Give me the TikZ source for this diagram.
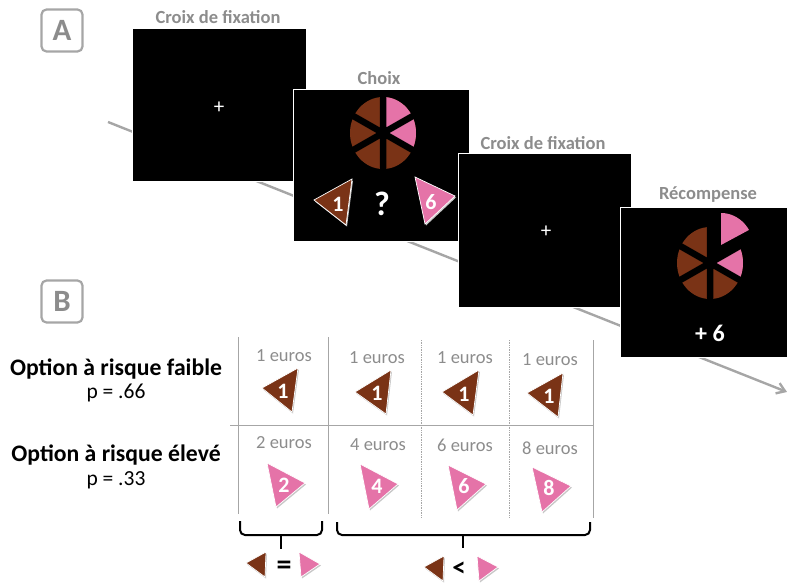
\documentclass[tikz,border=0pt]{standalone}
\usepackage{fontspec}
\setmainfont{Carlito}
\usetikzlibrary{arrows.meta}
\definecolor{brownc}{HTML}{7A3316}
\definecolor{pinkc}{HTML}{E573A8}
\definecolor{greyt}{HTML}{8C8C8C}
\definecolor{greyl}{HTML}{A6A6A6}
\newcommand{\fs}[1]{\fontsize{#1}{#1}\selectfont}
% triangle: three points, colour
\newcommand{\tri}[7]{%
  \fill[black!22] (#1+1,#2+1.5) -- (#3+1,#4+1.5) -- (#5+1,#6+1.5) -- cycle;
  \draw[white,line width=0.7pt,fill=#7] (#1,#2) -- (#3,#4) -- (#5,#6) -- cycle;}
\newcommand{\trinum}[3]{\node[tnum] at (#1,#2) {#3};}
\newcommand{\pie}[2]{%
  \begin{scope}[shift={(#1,#2)}]
    \fill[brownc] (0,0) ellipse [x radius=33,y radius=36];
    \begin{scope}
      \clip (0,0) ellipse [x radius=33,y radius=36];
      \fill[pinkc] (0,0) -- (0,-40) -- (45,-40) -- (45,26) -- cycle;
    \end{scope}
  \end{scope}}
\tikzset{
  screenbox/.style={fill=black,draw=white,line width=1pt,anchor=north west,inner sep=0pt,outer sep=0pt},
  title/.style={font=\fs{18.5}\bfseries,text=greyt,inner sep=0pt},
  euro/.style={font=\fs{18.5},text=greyt,inner sep=0pt},
  tnum/.style={font=\fs{22}\bfseries,text=white,inner sep=0pt},
  big/.style={font=\fs{23.7}\bfseries,text=black,inner sep=0pt},
  prob/.style={font=\fs{21.5},text=black,inner sep=0pt},
  letterbox/.style={draw=greyl,line width=2.2pt,rounded corners=5pt,minimum width=41pt,minimum height=42pt,inner sep=0pt,font=\fs{31}\bfseries,text=greyt},
  tline/.style={draw=greyl,line width=0.9pt},
  dotline/.style={draw=greyl,line width=0.7pt,densely dotted},
  brace/.style={draw=black,line width=2pt,rounded corners=5pt}
}
\begin{document}
\begin{tikzpicture}[x=1pt,y=-1pt]
\useasboundingbox (0,0) rectangle (787,583);
\clip (0,0) rectangle (787,583);
% time arrow behind the screens
\coordinate (tstart) at (108,122);
\coordinate (tend) at (787,392);
\draw[greyl,line width=2.4pt,-{Straight Barb[length=8pt,width=11pt]}] (tstart) -- (tend);
% labels
\node[letterbox] (la) at (62,30.5) {A};
\node[letterbox] (lb) at (62,301.5) {B};
% screens
\node[screenbox,minimum width=174pt,minimum height=152pt] (s1) at (132,29) {};
\node[text=white,font=\fs{21},inner sep=0pt] (c1) at (219,108) {+};
\node[title] (t1) at (218,17) {Croix de fixation};
\node[screenbox,minimum width=176pt,minimum height=151pt] (s2) at (293,90) {};
\node[title] (t2) at (379,78) {Choix};
\pie{383}{133}
\draw[black,line width=6.5pt] (383,93) -- (383,173) (348,113) -- (418,153) (348,153) -- (418,113);
\tri{314}{200}{352}{179}{346}{225}{brownc}
\trinum{338}{204}{1}
\tri{415}{177}{455}{196}{425}{224}{pinkc}
\trinum{431}{202}{6}
\node[font=\fs{34}\bfseries,text=white,inner sep=0pt] (q) at (382,204) {?};
\node[screenbox,minimum width=173pt,minimum height=153pt] (s3) at (458,154) {};
\node[title] (t3) at (543,143) {Croix de fixation};
\node[text=white,font=\fs{21},inner sep=0pt] (c3) at (546,232) {+};
\node[screenbox,minimum width=170pt,minimum height=150pt] (s4) at (620,207) {};
\node[title] (t4) at (708,195) {Récompense};
\pie{710}{263}
\draw[black,line width=6.5pt] (710,223) -- (710,303) (675,243) -- (745,283) (675,283) -- (745,243);
\fill[black] (710,226) -- (710,263) -- (748,243) -- (748,215) -- cycle;
\begin{scope}
  \clip (721,245) -- (721,205) -- (760,205) -- (760,224) -- cycle;
  \fill[pinkc] (721,249) ellipse [x radius=33,y radius=36];
\end{scope}
\node[font=\fs{24}\bfseries,text=white,inner sep=0pt] (r) at (710,333) {+ 6};
% table
\coordinate (v1a) at (238,337); \coordinate (v1b) at (238,514);
\coordinate (v2a) at (328,337); \coordinate (v2b) at (328,514);
\coordinate (v3a) at (421,340); \coordinate (v3b) at (421,517);
\coordinate (v4a) at (509,340); \coordinate (v4b) at (509,517);
\coordinate (v5a) at (593,340); \coordinate (v5b) at (593,518);
\coordinate (ha) at (230,425.5); \coordinate (hb) at (593,425.5);
\draw[tline] (v1a) -- (v1b) (v2a) -- (v2b) (v5a) -- (v5b) (ha) -- (hb);
\draw[dotline] (v3a) -- (v3b) (v4a) -- (v4b);
\node[big] (o1) at (116,369) {Option à risque faible};
\node[prob] (p1) at (116,393) {p = .66};
\node[big] (o2) at (116,455) {Option à risque élevé};
\node[prob] (p2) at (116,480) {p = .33};
\node[euro] (e1) at (284,356) {1 euros};
\node[euro] (e2) at (377,358) {1 euros};
\node[euro] (e3) at (465,358) {1 euros};
\node[euro] (e4) at (550,360) {1 euros};
\node[euro] (e5) at (284,443) {2 euros};
\node[euro] (e6) at (378,445) {4 euros};
\node[euro] (e7) at (465,445) {6 euros};
\node[euro] (e8) at (550,448) {8 euros};
\tri{262}{388}{298}{368}{292}{412}{brownc}
\trinum{283}{391}{1}
\tri{355}{392}{391}{370}{386}{414}{brownc}
\trinum{377}{393}{1}
\tri{442}{392}{479}{370}{473}{415}{brownc}
\trinum{464}{394}{1}
\tri{527}{393}{563}{373}{558}{417}{brownc}
\trinum{549}{396}{1}
\tri{267}{463}{305}{483}{276}{507}{pinkc}
\trinum{284}{485}{2}
\tri{360}{464}{398}{484}{369}{509}{pinkc}
\trinum{377}{486}{4}
\tri{448}{465}{486}{484}{457}{510}{pinkc}
\trinum{464}{486}{6}
\tri{532}{467}{571}{486}{542}{512}{pinkc}
\trinum{549}{488}{8}
% braces
\draw[brace] (240,521) -- (240,535) -- (322,535) -- (322,521);
\draw[brace] (281,535) -- (281,549);
\draw[brace] (337,522) -- (337,535) -- (590,535) -- (590,522);
\draw[brace] (463,535) -- (463,548);
% legend
\tri{246}{563}{266}{552}{265}{577}{brownc}
\tri{299}{552}{320}{564}{301}{577}{pinkc}
\node[font=\fs{30}\bfseries,text=black,inner sep=0pt] (eq) at (284,568) {=};
\tri{424}{567}{444}{556}{443}{581}{brownc}
\tri{477}{556}{498}{567}{479}{581}{pinkc}
\node[font=\fs{27}\bfseries,text=black,inner sep=0pt,anchor=base] (lt) at (459,576) {<};
\end{tikzpicture}
\end{document}
